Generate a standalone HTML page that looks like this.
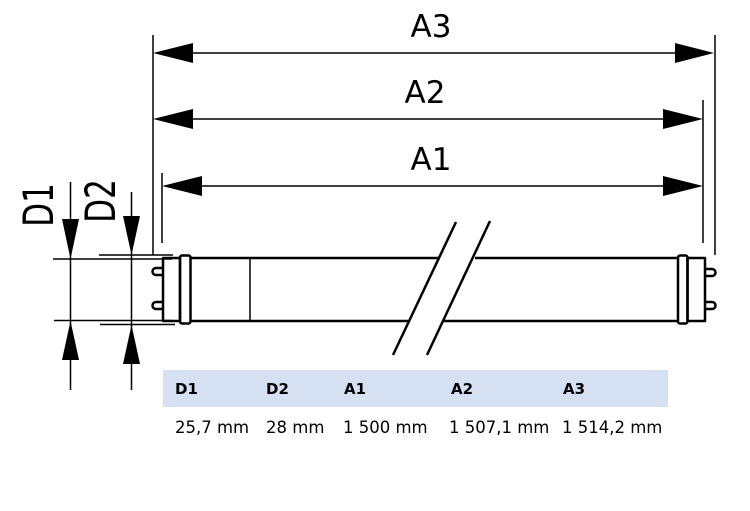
<!DOCTYPE html>
<html><head><meta charset="utf-8"><style>
html,body{margin:0;padding:0;background:#fff;}
svg{display:block;}
text{font-family:"DejaVu Sans","Liberation Sans",sans-serif;fill:#000;}
</style></head><body>
<svg width="750" height="511" viewBox="0 0 750 511" xmlns="http://www.w3.org/2000/svg">
<g stroke="#000" stroke-width="1.5" fill="none">
<line x1="153" y1="35" x2="153" y2="255"/>
<line x1="715" y1="35" x2="715" y2="255"/>
<line x1="703" y1="100" x2="703" y2="243"/>
<line x1="162" y1="173" x2="162" y2="243"/>
<line x1="170" y1="53" x2="700" y2="53"/>
<line x1="170" y1="119" x2="690" y2="119"/>
<line x1="180" y1="186" x2="690" y2="186"/>
<line x1="70.5" y1="182" x2="70.5" y2="390"/>
<line x1="131.5" y1="192" x2="131.5" y2="390"/>
<line x1="53" y1="259" x2="172" y2="259"/>
<line x1="54" y1="320.5" x2="172" y2="320.5"/>
<line x1="99" y1="255" x2="173" y2="255"/>
<line x1="100" y1="324.5" x2="175" y2="324.5"/>
</g>
<g fill="#000">
<polygon points="153,53 193,43 193,63"/>
<polygon points="714,53 675,43 675,63"/>
<polygon points="153,119 193,109 193,129"/>
<polygon points="703,119 663,109 663,129"/>
<polygon points="162,186 202,176 202,196"/>
<polygon points="703,186 663,176 663,196"/>
<polygon points="70.5,259 62,219 79,219"/>
<polygon points="70.5,321 62,360 79,360"/>
<polygon points="131.5,255 123,216 140,216"/>
<polygon points="131.5,325 123,364 140,364"/>
</g>
<g stroke="#000" stroke-width="2.5" fill="none" stroke-linejoin="round">
<line x1="190" y1="258" x2="440" y2="258"/>
<line x1="190" y1="321" x2="410" y2="321"/>
<line x1="475" y1="258" x2="678" y2="258"/>
<line x1="444" y1="321" x2="678" y2="321"/>
<rect x="163" y="258" width="17" height="63"/>
<rect x="180" y="255.5" width="10.5" height="68" rx="2"/>
<rect x="678" y="255.5" width="9.5" height="68" rx="2"/>
<rect x="687.5" y="258" width="17.5" height="63"/>
<line x1="456" y1="222" x2="393" y2="355"/>
<line x1="490" y1="221" x2="427" y2="355"/>
<path d="M163,268 h-7 a3.5,3.5 0 0 0 0,7 h7"/>
<path d="M163,302 h-7 a3.5,3.5 0 0 0 0,7 h7"/>
<path d="M705,269 h7 a3.5,3.5 0 0 1 0,7 h-7"/>
<path d="M705,302 h7 a3.5,3.5 0 0 1 0,7 h-7"/>
</g>
<line x1="250" y1="258" x2="250" y2="321" stroke="#000" stroke-width="1.5"/>
<text x="431" y="37" font-size="31" text-anchor="middle">A3</text>
<text x="425" y="103" font-size="31" text-anchor="middle">A2</text>
<text x="431" y="170" font-size="31" text-anchor="middle">A1</text>
<text transform="translate(53,205) rotate(-90) scale(1,1.35)" font-size="31" text-anchor="middle">D1</text>
<text transform="translate(115,201) rotate(-90) scale(1,1.35)" font-size="31" text-anchor="middle">D2</text>
<rect x="163" y="370" width="505" height="37" fill="#d5e1f2"/>
<g font-size="15" font-weight="bold">
<text x="175" y="394">D1</text>
<text x="266" y="394">D2</text>
<text x="344" y="394">A1</text>
<text x="451" y="394">A2</text>
<text x="563" y="394">A3</text>
</g>
<g font-size="16.5">
<text x="175" y="433">25,7 mm</text>
<text x="266" y="433">28 mm</text>
<text x="343" y="433">1 500 mm</text>
<text x="449" y="433">1 507,1 mm</text>
<text x="562" y="433">1 514,2 mm</text>
</g>
</svg>
</body></html>
